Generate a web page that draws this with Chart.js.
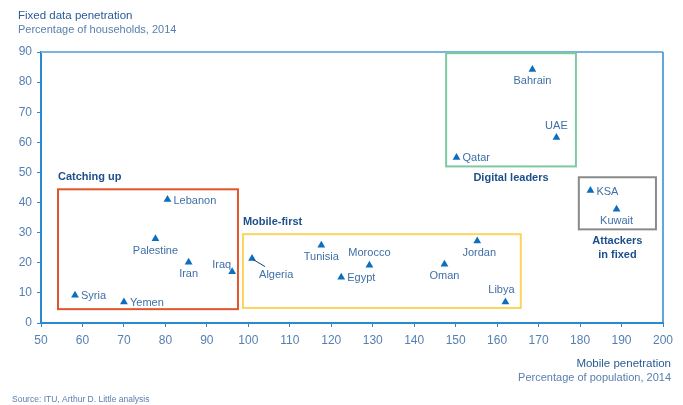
<!DOCTYPE html>
<html>
<head>
<meta charset="utf-8">
<script src="https://cdn.jsdelivr.net/npm/chart.js@4/dist/chart.umd.min.js"></script>
<style>
  html, body { margin: 0; padding: 0; background: #fff; }
  #wrap { width: 683px; height: 405px; position: relative; }
</style>
</head>
<body>
<div id="wrap"><canvas id="chart"></canvas></div>
<script>
// data
const countries = ['Syria', 'Yemen', 'Palestine', 'Lebanon', 'Iran', 'Iraq', 'Algeria', 'Tunisia', 'Egypt',
  'Morocco', 'Oman', 'Jordan', 'Libya', 'Qatar', 'Bahrain', 'UAE', 'KSA', 'Kuwait'];
const mobilePen = [58.2, 70.0, 77.6, 80.5, 85.6, 96.1, 100.9, 117.6, 122.4, 129.2, 147.3, 155.2, 162.0, 150.2, 168.5, 174.3, 182.5, 188.8];
const fixedPen  = [9.2, 7.0, 28.0, 41.0, 20.2, 17.0, 21.4, 25.8, 15.2, 19.2, 19.5, 27.2, 7.0, 55.0, 84.2, 61.6, 44.0, 37.8];
const xTicks = [50, 60, 70, 80, 90, 100, 110, 120, 130, 140, 150, 160, 170, 180, 190, 200];
const yTicks = [0, 10, 20, 30, 40, 50, 60, 70, 80, 90];

// group boxes (x1, x2, y1, y2 in data units)
const groupNames = ['Catching up', 'Mobile-first', 'Digital leaders', 'Attackers\nin fixed'];
const groupX = [[54.1, 97.5], [98.7, 165.7], [147.7, 179.0], [179.7, 198.3]];
const groupY = [[4.6, 44.4], [5.0, 29.5], [52.0, 89.6], [31.1, 48.4]];

// label placement: [side, dx]
const labelPos = {
  Syria: ['r'], Yemen: ['r'], Palestine: ['b'], Lebanon: ['r'], Iran: ['b'], Iraq: ['tl'],
  Algeria: ['line'], Tunisia: ['b'], Egypt: ['r'], Morocco: ['t'], Oman: ['b'], Jordan: ['b', 2],
  Libya: ['t', -4], Qatar: ['r'], Bahrain: ['b'], UAE: ['t'], KSA: ['r'], Kuwait: ['b']
};

const BLUE = '#0b6fbf';
const TXT = '#3f6fa7';
const NAVY = '#1d4f8c';
const FONT = 'Arial, "Liberation Sans", Helvetica, sans-serif';
const boxColors = ['#e0562b', '#fdd35f', '#7fc9a2', '#8a8a8a'];
const groupLabelAlign = ['left', 'left', 'center', 'center'];

const overlay = {
  id: 'overlay',
  afterDraw(chart) {
    const { ctx, chartArea: a, scales: { x, y } } = chart;
    ctx.save();
    // top and right frame
    ctx.strokeStyle = '#78b6df';
    ctx.lineWidth = 2;
    ctx.beginPath();
    ctx.moveTo(a.left, a.top); ctx.lineTo(a.right, a.top);
    ctx.stroke();
    ctx.strokeStyle = '#2a8ad0';
    ctx.lineWidth = 1.5;
    ctx.beginPath();
    ctx.moveTo(a.right, a.top); ctx.lineTo(a.right, a.bottom);
    ctx.stroke();

    // group boxes
    groupNames.forEach((name, i) => {
      const x1 = x.getPixelForValue(groupX[i][0]), x2 = x.getPixelForValue(groupX[i][1]);
      const y1 = y.getPixelForValue(groupY[i][1]), y2 = y.getPixelForValue(groupY[i][0]);
      ctx.strokeStyle = boxColors[i];
      ctx.lineWidth = 2;
      ctx.strokeRect(x1, y1, x2 - x1, y2 - y1);
      ctx.fillStyle = NAVY;
      ctx.font = 'bold 11px ' + FONT;
      const al = groupLabelAlign[i];
      ctx.textAlign = al;
      ctx.textBaseline = 'middle';
      name.split('\n').forEach((ln, k) => {
        const tx = al === 'left' ? x1 : (x1 + x2) / 2;
        const ty = al === 'left' ? y1 - 12 : y2 + 12 + k * 14;
        ctx.fillText(ln, tx, ty);
      });
    });

    // point labels
    ctx.font = '11px ' + FONT;
    ctx.fillStyle = TXT;
    countries.forEach((c, i) => {
      const px = x.getPixelForValue(mobilePen[i]);
      const py = y.getPixelForValue(fixedPen[i]);
      const [side, ox = 0] = labelPos[c];
      ctx.textBaseline = 'middle';
      if (side === 'r') { ctx.textAlign = 'left'; ctx.fillText(c, px + 6, py + 1); }
      else if (side === 'b') { ctx.textAlign = 'center'; ctx.fillText(c, px + ox, py + 12); }
      else if (side === 't') { ctx.textAlign = 'center'; ctx.fillText(c, px + ox, py - 12); }
      else if (side === 'tl') { ctx.textAlign = 'right'; ctx.fillText(c, px - 1, py - 7); }
      else if (side === 'line') {
        ctx.strokeStyle = '#1d3f6e';
        ctx.lineWidth = 1;
        ctx.beginPath(); ctx.moveTo(px + 1, py + 1); ctx.lineTo(px + 13, py + 8); ctx.stroke();
        ctx.textAlign = 'left'; ctx.fillText(c, px + 7, py + 16);
      }
    });

    // titles
    ctx.textAlign = 'left';
    ctx.textBaseline = 'alphabetic';
    ctx.fillStyle = '#2a5a96';
    ctx.font = '11.5px ' + FONT;
    ctx.fillText('Fixed data penetration', 18, 19);
    ctx.fillStyle = '#5a7eae';
    ctx.font = '11px ' + FONT;
    ctx.fillText('Percentage of households, 2014', 18, 33);

    ctx.textAlign = 'right';
    ctx.fillStyle = '#2a5a96';
    ctx.font = '11.5px ' + FONT;
    ctx.fillText('Mobile penetration', 671, 367);
    ctx.fillStyle = '#5a7eae';
    ctx.font = '11px ' + FONT;
    ctx.fillText('Percentage of population, 2014', 671, 381);

    ctx.textAlign = 'left';
    ctx.font = '8.5px ' + FONT;
    ctx.fillText('Source: ITU, Arthur D. Little analysis', 12, 402);
    ctx.restore();
  }
};

new Chart(document.getElementById('chart'), {
  type: 'scatter',
  data: {
    datasets: [{
      data: mobilePen.map((v, i) => ({ x: v, y: fixedPen[i] })),
      pointStyle: 'triangle',
      pointRadius: 4.5,
      backgroundColor: BLUE,
      borderColor: BLUE,
      borderWidth: 0
    }]
  },
  options: {
    responsive: true,
    maintainAspectRatio: false,
    animation: false,
    layout: { padding: { top: 52, right: 20, left: 0, bottom: 0 } },
    plugins: { legend: { display: false }, tooltip: { enabled: false } },
    scales: {
      x: {
        type: 'linear',
        min: 50, max: 200,
        afterBuildTicks: s => { s.ticks = xTicks.map(v => ({ value: v })); },
        afterFit: s => { s.height = 82; },
        grid: { drawOnChartArea: false, drawTicks: true, tickLength: 4, color: '#2a8ad0' },
        border: { color: '#2a8ad0', width: 2 },
        ticks: { color: '#5580b3', font: { size: 12, family: FONT }, padding: 6, maxRotation: 0 }
      },
      y: {
        type: 'linear',
        min: 0, max: 90,
        afterBuildTicks: s => { s.ticks = yTicks.map(v => ({ value: v })); },
        afterFit: s => { s.width = 41; },
        grid: { drawOnChartArea: false, drawTicks: true, tickLength: 4, color: '#2a8ad0' },
        border: { color: '#2a8ad0', width: 2 },
        ticks: { color: '#5580b3', font: { size: 12, family: FONT }, padding: 5 }
      }
    }
  },
  plugins: [overlay]
});
</script>
</body>
</html>
